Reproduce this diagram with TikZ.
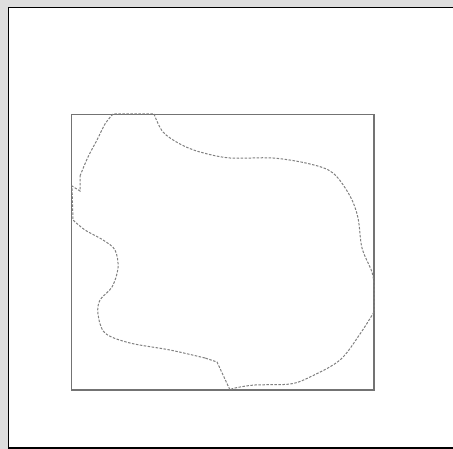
\documentclass[tikz,border=0pt]{standalone}
\begin{document}
\begin{tikzpicture}[x=1pt,y=-1pt,
  frame/.style={draw=black,line width=1.6pt},
  box/.style={draw=black!55,line width=1.4pt},
  blob/.style={draw=black!50,line width=1pt,dash pattern=on 2.5pt off 1.5pt}]
\useasboundingbox (0,0) rectangle (453,449);
\clip (0,0) rectangle (453,449);
\fill[black!13] (0,0) rectangle (453,449);
\fill[white] (8,7) rectangle (460,448);
\draw[frame] (8.5,7.5) -- (460,7.5) (8.5,7.5) -- (8.5,448) -- (460,448);
\draw[box] (71.5,114.5) rectangle (374,390);
% dashed outline
\draw[blob] plot[smooth,tension=0.55] coordinates {(154,114) (163,132) (180,144) (200,152) (230,158) (273,158) (310,164) (333,173) (350,196) (358,218) (362,248) (372,272) (374,285)}
  -- (374,312)
  plot[smooth,tension=0.55] coordinates {(374,312) (360,334) (340,360) (310,377) (290,384) (255,385) (235,388) (230,390)}
  -- (217,362) -- (205,358)
  plot[smooth,tension=0.55] coordinates {(205,358) (170,350) (130,343) (105,333) (98,314) (100,300) (112,287) (118,268) (115,250) (103,240) (85,230) (73,220)}
  -- (72,186) -- (80,191) -- (80,176)
  plot[smooth,tension=0.55] coordinates {(80,176) (88,157) (97,140) (105,124) (113,114)}
  -- (154,114);
\end{tikzpicture}
\end{document}
